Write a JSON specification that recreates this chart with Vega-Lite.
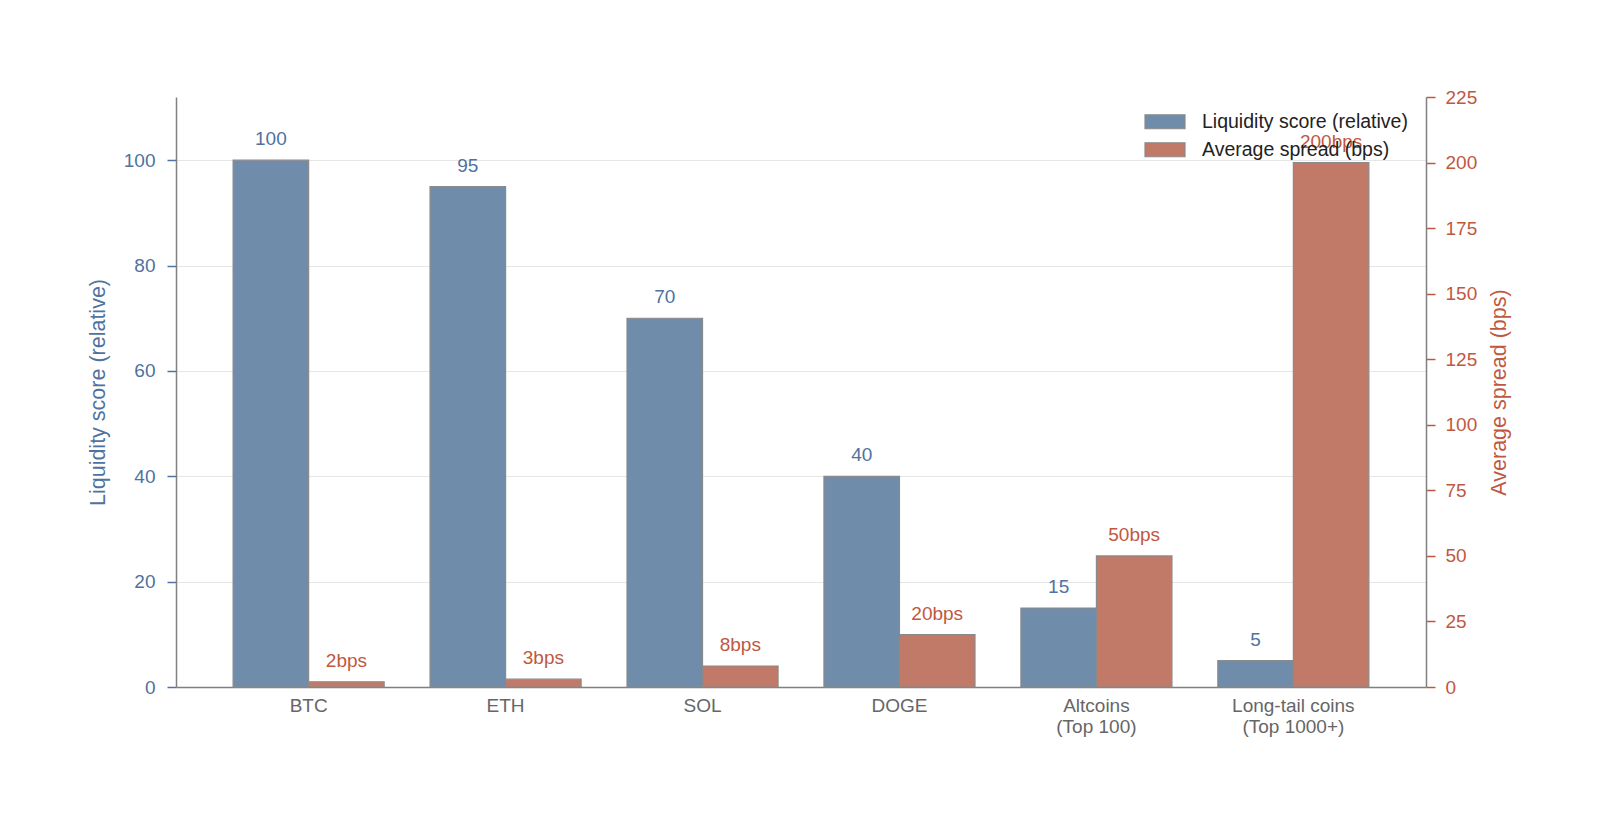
{
  "$schema": "https://vega.github.io/schema/vega-lite/v6.json",
  "autosize": {"type": "none"},
  "padding": {"left": 176, "top": 97, "right": 174, "bottom": 138},
  "width": 1250,
  "height": 590,
  "background": "white",
  "config": {
    "font": "Liberation Sans",
    "view": {"stroke": null}
  },
  "data": {
    "values": [
      {"coin": "BTC", "liquidity": 100, "spread": 2, "spread_label": "2bps"},
      {"coin": "ETH", "liquidity": 95, "spread": 3, "spread_label": "3bps"},
      {"coin": "SOL", "liquidity": 70, "spread": 8, "spread_label": "8bps"},
      {"coin": "DOGE", "liquidity": 40, "spread": 20, "spread_label": "20bps"},
      {"coin": "Altcoins\n(Top 100)", "liquidity": 15, "spread": 50, "spread_label": "50bps"},
      {"coin": "Long-tail coins\n(Top 1000+)", "liquidity": 5, "spread": 200, "spread_label": "200bps"}
    ]
  },
  "encoding": {
    "x": {
      "field": "coin",
      "type": "nominal",
      "sort": null,
      "scale": {"paddingInner": 0.233, "paddingOuter": 0.29},
      "axis": {
        "title": null,
        "labelAngle": 0,
        "labelExpr": "split(datum.label, '\\n')",
        "labelFontSize": 19,
        "labelColor": "#666666",
        "labelPadding": 9,
        "labelLineHeight": 21,
        "ticks": false,
        "domainColor": "#808080",
        "domainWidth": 1.5,
        "grid": false
      }
    }
  },
  "layer": [
    {
      "encoding": {
        "xOffset": {"datum": "L", "scale": {"domain": ["L", "S"], "paddingInner": 0, "paddingOuter": 0}},
        "y": {
          "field": "liquidity",
          "type": "quantitative",
          "scale": {"domain": [0, 112], "nice": false},
          "axis": {
            "orient": "left",
            "title": "Liquidity score (relative)",
            "titleFontSize": 21.5,
            "titleFontWeight": "normal",
            "titleColor": "#4f72a0",
            "titlePadding": 14,
            "values": [0, 20, 40, 60, 80, 100],
            "labelFontSize": 19,
            "labelColor": "#4f72a0",
            "labelPadding": 12,
            "tickColor": "#4f72a0",
            "tickSize": 9,
            "tickWidth": 1.5,
            "domainColor": "#808080",
            "domainWidth": 1.5,
            "grid": true,
            "gridColor": "#e6e6e6",
            "gridWidth": 1
          }
        }
      },
      "layer": [
        {
          "mark": {"type": "bar", "stroke": "#8a8a8a", "strokeWidth": 1.2},
          "encoding": {
            "color": {
              "datum": "Liquidity score (relative)",
              "type": "nominal",
              "scale": {"domain": ["Liquidity score (relative)", "Average spread (bps)"], "range": ["#6f8caa", "#c17968"]},
              "legend": {
                "orient": "none",
                "legendX": 968,
                "legendY": 11,
                "title": null,
                "symbolType": "M-1,-0.35H1V0.35H-1Z",
                "symbolSize": 1600,
                "symbolStrokeColor": "#8a8a8a",
                "symbolStrokeWidth": 1.2,
                "symbolOpacity": 1,
                "labelFontSize": 19.5,
                "labelColor": "#222222",
                "labelOffset": 16,
                "labelLimit": 400,
                "clipHeight": 27.5,
                "rowPadding": 0,
                "padding": 0
              }
            }
          }
        },
        {
          "mark": {"type": "text", "baseline": "bottom", "dy": -11, "fontSize": 19, "color": "#4f72a0"},
          "encoding": {"text": {"field": "liquidity", "type": "quantitative"}}
        }
      ]
    },
    {
      "encoding": {
        "xOffset": {"datum": "S"},
        "y": {
          "field": "spread",
          "type": "quantitative",
          "scale": {"domain": [0, 225], "nice": false},
          "axis": {
            "orient": "right",
            "title": "Average spread (bps)",
            "titleFontSize": 21.5,
            "titleFontWeight": "normal",
            "titleColor": "#c0583f",
            "titleAngle": 270,
            "titleBaseline": "top",
            "titlePadding": 12,
            "values": [0, 25, 50, 75, 100, 125, 150, 175, 200, 225],
            "labelFontSize": 19,
            "labelColor": "#c0583f",
            "labelPadding": 10,
            "tickColor": "#c0583f",
            "tickSize": 9,
            "tickWidth": 1.5,
            "domainColor": "#808080",
            "domainWidth": 1.5,
            "grid": false
          }
        }
      },
      "layer": [
        {
          "mark": {"type": "bar", "stroke": "#8a8a8a", "strokeWidth": 1.2},
          "encoding": {"color": {"datum": "Average spread (bps)", "type": "nominal"}}
        },
        {
          "mark": {"type": "text", "baseline": "bottom", "dy": -11, "fontSize": 19, "color": "#c0583f"},
          "encoding": {"text": {"field": "spread_label", "type": "nominal"}}
        }
      ]
    }
  ],
  "resolve": {"scale": {"y": "independent"}, "axis": {"y": "independent"}}
}
